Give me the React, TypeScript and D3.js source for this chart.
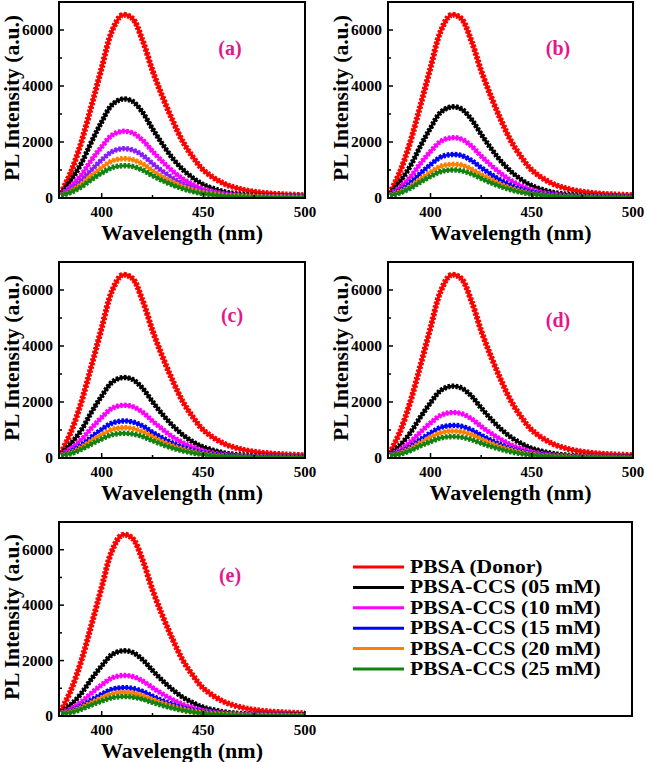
import React from 'react';
import * as d3 from 'd3';

// ---------- data ----------
const wavelengths = [380, 385, 390, 395, 400, 405, 410, 415, 420, 425, 430, 435, 440, 445, 450, 460, 470, 480, 490, 500];

// PBSA donor spectrum (same in every panel)
const donor = [180, 950, 2000, 3300, 4650, 5950, 6530, 6420, 5650, 4550, 3600, 2750, 2000, 1450, 1000, 520, 290, 180, 130, 100];

// panel (a)
const a05 = [140, 640, 1240, 2010, 2720, 3320, 3530, 3460, 3070, 2470, 1910, 1410, 1010, 710, 480, 230, 120, 80, 60, 50];
const a10 = [120, 430, 830, 1360, 1830, 2240, 2380, 2330, 2070, 1670, 1290, 950, 680, 480, 320, 155, 85, 55, 40, 35];
const a15 = [110, 320, 620, 1000, 1360, 1650, 1760, 1720, 1530, 1230, 950, 700, 500, 350, 240, 115, 60, 40, 30, 25];
const a20 = [100, 250, 490, 800, 1080, 1320, 1400, 1370, 1220, 980, 760, 560, 400, 280, 190, 90, 50, 32, 24, 20];
const a25 = [90, 210, 400, 660, 890, 1080, 1150, 1130, 1000, 800, 620, 460, 330, 230, 155, 75, 40, 26, 20, 16];

// panel (b)
const b05 = [140, 590, 1140, 1850, 2500, 3060, 3250, 3190, 2830, 2280, 1760, 1300, 930, 650, 440, 210, 115, 75, 55, 45];
const b10 = [120, 390, 750, 1230, 1660, 2020, 2150, 2110, 1870, 1500, 1160, 860, 610, 430, 290, 140, 75, 50, 37, 30];
const b15 = [110, 280, 540, 880, 1190, 1460, 1550, 1520, 1350, 1085, 840, 620, 440, 310, 210, 100, 55, 36, 26, 22];
const b20 = [100, 220, 420, 680, 920, 1130, 1200, 1180, 1040, 840, 650, 480, 340, 240, 160, 78, 42, 28, 20, 17];
const b25 = [90, 180, 350, 570, 770, 940, 1000, 980, 870, 700, 540, 400, 285, 200, 135, 65, 35, 23, 17, 14];

// panel (c)
const c05 = [140, 520, 1000, 1640, 2210, 2700, 2870, 2810, 2500, 2010, 1550, 1150, 820, 570, 390, 185, 100, 66, 49, 40];
const c10 = [120, 340, 660, 1070, 1450, 1770, 1880, 1840, 1640, 1320, 1020, 750, 540, 380, 255, 120, 66, 43, 32, 26];
const c15 = [110, 240, 460, 750, 1020, 1240, 1320, 1290, 1150, 920, 710, 530, 380, 265, 180, 86, 46, 30, 22, 18];
const c20 = [100, 195, 380, 620, 830, 1015, 1080, 1060, 940, 760, 580, 430, 310, 215, 145, 70, 38, 25, 18, 15];
const c25 = [90, 160, 310, 500, 680, 830, 880, 860, 770, 620, 475, 350, 250, 175, 120, 57, 31, 20, 15, 12];

// panel (d)
const d05 = [140, 460, 900, 1460, 1970, 2410, 2560, 2510, 2230, 1790, 1380, 1020, 730, 510, 345, 165, 90, 59, 44, 36];
const d10 = [120, 290, 570, 920, 1250, 1520, 1620, 1590, 1410, 1130, 875, 650, 460, 325, 220, 105, 57, 37, 28, 23];
const d15 = [110, 210, 405, 660, 890, 1090, 1160, 1140, 1010, 810, 630, 465, 330, 230, 157, 75, 41, 27, 20, 16];
const d20 = [100, 175, 335, 550, 740, 900, 960, 940, 835, 670, 520, 385, 275, 190, 130, 62, 34, 22, 16, 13];
const d25 = [90, 140, 265, 435, 585, 715, 760, 745, 660, 530, 410, 305, 215, 150, 100, 50, 27, 17, 13, 11];

// panel (e)
const e05 = [140, 420, 820, 1340, 1810, 2210, 2350, 2300, 2040, 1645, 1270, 940, 670, 470, 315, 150, 82, 54, 40, 33];
const e10 = [120, 265, 510, 830, 1125, 1370, 1460, 1430, 1270, 1020, 790, 585, 415, 290, 195, 95, 51, 34, 25, 20];
const e15 = [110, 185, 355, 580, 785, 960, 1020, 1000, 890, 715, 550, 410, 290, 205, 138, 66, 36, 23, 17, 14];
const e20 = [100, 155, 300, 485, 655, 800, 850, 835, 740, 595, 460, 340, 240, 170, 115, 55, 30, 20, 14, 12];
const e25 = [90, 125, 245, 400, 540, 660, 700, 685, 610, 490, 380, 280, 200, 140, 95, 46, 25, 16, 12, 10];

const seriesNames = [
  'PBSA (Donor)',
  'PBSA-CCS (05 mM)',
  'PBSA-CCS (10 mM)',
  'PBSA-CCS (15 mM)',
  'PBSA-CCS (20 mM)',
  'PBSA-CCS (25 mM)',
];
const seriesColors = ['#ff0000', '#000000', '#ff00ff', '#0000ff', '#ff8000', '#128212'];
const panelAColors = ['#ff0000', '#000000', '#ff00ff', '#8a1cff', '#ff8000', '#128212'];
const panelLabels = ['(a)', '(b)', '(c)', '(d)', '(e)'];

const xTicks = [400, 450, 500];
const xMinorTicks = [425, 475];
const yTicks = [0, 2000, 4000, 6000];
const yMinorTicks = [1000, 3000, 5000];
const xDomain: [number, number] = [379, 500];
const yDomain: [number, number] = [0, 7000];

const panelSeries = [
  [donor, a05, a10, a15, a20, a25],
  [donor, b05, b10, b15, b20, b25],
  [donor, c05, c10, c15, c20, c25],
  [donor, d05, d10, d15, d20, d25],
  [donor, e05, e10, e15, e20, e25],
];
const panelColors = [panelAColors, seriesColors, seriesColors, seriesColors, seriesColors];

// ---------- layout (styles) ----------
const layout = [
  { left: 59, right: 305, top: 2, bottom: 198, frameRight: 305, lx: 171, ly: 53 },
  { left: 388, right: 633, top: 2, bottom: 198, frameRight: 633, lx: 170, ly: 53 },
  { left: 59, right: 305, top: 262, bottom: 458, frameRight: 305, lx: 173, ly: 60 },
  { left: 388, right: 633, top: 262, bottom: 458, frameRight: 633, lx: 170, ly: 65 },
  { left: 59, right: 305, top: 522, bottom: 716, frameRight: 632, lx: 171, ly: 60 },
];

const FONT = '"Liberation Serif", "Times New Roman", Times, serif';
const LABEL_COLOR = '#e5168a';

function Panel({ idx }: { idx: number }) {
  const L = layout[idx];
  const x = d3.scaleLinear().domain(xDomain).range([L.left, L.right]);
  const y = d3.scaleLinear().domain(yDomain).range([L.bottom, L.top]);
  const line = d3
    .line<number>()
    .x((_, i) => x(wavelengths[i]))
    .y((d) => y(d))
    .curve(d3.curveCatmullRom.alpha(0.5));
  const clipId = `clip-${idx}`;
  const series = panelSeries[idx];
  const colors = panelColors[idx];
  const cx = (L.left + L.right) / 2;
  const cy = (L.top + L.bottom) / 2;
  return (
    <g>
      <defs>
        <clipPath id={clipId}>
          <rect x={L.left + 1} y={L.top + 1} width={L.right - L.left - 1} height={L.bottom - L.top - 1} />
        </clipPath>
      </defs>
      <g clipPath={`url(#${clipId})`}>
        {series.map((s, si) => {
          const d = line(s) || '';
          const w = si === 0 ? 3.2 : 2.8;
          return (
            <g key={si}>
              <path d={d} fill="none" stroke={colors[si]} strokeWidth={w} />
              <path
                d={d}
                fill="none"
                stroke={colors[si]}
                strokeWidth={si === 0 ? 6 : 5.4}
                strokeDasharray="2.4 1.5"
                strokeLinejoin="miter"
              />
            </g>
          );
        })}
      </g>
      {/* frame */}
      <rect
        x={L.left}
        y={L.top}
        width={L.frameRight - L.left}
        height={L.bottom - L.top}
        fill="none"
        stroke="#000"
        strokeWidth={2}
      />
      {/* x ticks */}
      {xTicks.map((t) => (
        <g key={`xt${t}`}>
          <line x1={x(t)} x2={x(t)} y1={L.bottom} y2={L.bottom - 5} stroke="#000" strokeWidth={1.5} />
          <text
            x={x(t)}
            y={L.bottom + 18.5}
            textAnchor="middle"
            fontFamily={FONT}
            fontWeight="bold"
            fontSize={15}
          >
            {t}
          </text>
        </g>
      ))}
      {xMinorTicks.map((t) => (
        <line key={`xm${t}`} x1={x(t)} x2={x(t)} y1={L.bottom} y2={L.bottom - 3} stroke="#000" strokeWidth={1.5} />
      ))}
      {/* y ticks */}
      {yTicks.map((t) => (
        <g key={`yt${t}`}>
          <line x1={L.left} x2={L.left + 5} y1={y(t)} y2={y(t)} stroke="#000" strokeWidth={1.5} />
          <text
            x={L.left - 6}
            y={y(t) + 5}
            textAnchor="end"
            fontFamily={FONT}
            fontWeight="bold"
            fontSize={15.5}
          >
            {t}
          </text>
        </g>
      ))}
      {yMinorTicks.map((t) => (
        <line key={`ym${t}`} x1={L.left} x2={L.left + 3} y1={y(t)} y2={y(t)} stroke="#000" strokeWidth={1.5} />
      ))}
      {/* axis titles */}
      <text
        x={cx}
        y={L.bottom + 41.5}
        textAnchor="middle"
        fontFamily={FONT}
        fontWeight="bold"
        fontSize={22}
      >
        Wavelength (nm)
      </text>
      <text
        transform={`translate(${L.left - 40},${cy - 2}) rotate(-90)`}
        textAnchor="middle"
        fontFamily={FONT}
        fontWeight="bold"
        fontSize={21.5}
      >
        PL Intensity (a.u.)
      </text>
      {/* panel label */}
      <text
        x={L.left + L.lx}
        y={L.top + L.ly}
        textAnchor="middle"
        fontFamily={FONT}
        fontWeight="bold"
        fontSize={20}
        fill={LABEL_COLOR}
      >
        {panelLabels[idx]}
      </text>
    </g>
  );
}

function Legend() {
  const x0 = 353;
  const y0 = 567;
  const step = 20.4;
  return (
    <g>
      {seriesNames.map((name, i) => (
        <g key={name}>
          <line
            x1={x0}
            x2={x0 + 51}
            y1={y0 + i * step}
            y2={y0 + i * step}
            stroke={seriesColors[i]}
            strokeWidth={3}
          />
          <text
            transform={`translate(${x0 + 57},${y0 + i * step + 6}) scale(1.2,1)`}
            fontFamily={FONT}
            fontWeight="bold"
            fontSize={18}
          >
            {name}
          </text>
        </g>
      ))}
    </g>
  );
}

export default function App() {
  return (
    <svg
      width={646}
      height={762}
      style={{ position: 'absolute', left: 0, top: 0, background: '#fff' }}
    >
      <rect x={0} y={0} width={646} height={762} fill="#fff" />
      {panelLabels.map((_, i) => (
        <Panel key={i} idx={i} />
      ))}
      <Legend />
    </svg>
  );
}
